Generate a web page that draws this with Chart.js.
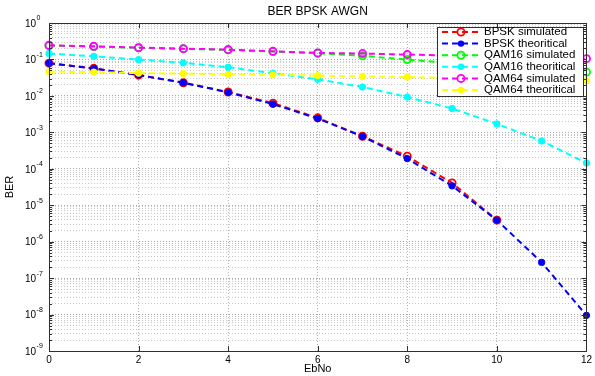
<!DOCTYPE html>
<html>
<head>
<meta charset="utf-8">
<title>BER BPSK AWGN</title>
<script src="https://cdn.jsdelivr.net/npm/chart.js@4.4.1/dist/chart.umd.min.js"></script>
<style>
  html, body { margin: 0; padding: 0; background: #fff; }
  #wrap { width: 595px; height: 376px; }
</style>
</head>
<body>
<div id="wrap"><canvas id="berChart" width="595" height="376"></canvas></div>
<script>
// Eb/No sweep (dB)
const ebNo = [0, 1, 2, 3, 4, 5, 6, 7, 8, 9, 10, 11, 12];

// BER curves
const bpskSimulated   = [0.079, 0.057, 0.037, 0.023, 0.0128, 0.0063, 0.0025, 0.00078, 0.00022, 0.000041, 0.0000039, null, null];
const bpskTheoretical = [0.0786, 0.0563, 0.0375, 0.0229, 0.0125, 0.00595, 0.00239, 0.00077, 0.00019, 0.000034, 0.0000039, 0.00000027, 0.0000000095];
const qam16Simulated  = [0.24, 0.226, 0.208, 0.195, 0.183, 0.165, 0.148, 0.126, 0.099, 0.08, 0.066, 0.054, 0.045];
const qam16Theoretical = [0.145, 0.122, 0.099, 0.081, 0.061, 0.042, 0.0285, 0.0175, 0.0093, 0.0045, 0.0017, 0.00058, 0.000144];
const qam64Simulated  = [0.244, 0.229, 0.211, 0.198, 0.186, 0.167, 0.151, 0.145, 0.136, 0.128, 0.12, 0.112, 0.105];
const qam64Theoretical = [0.046, 0.045, 0.042, 0.041, 0.039, 0.038, 0.036, 0.034, 0.033, 0.031, 0.029, 0.027, 0.026];

// axis ticks
const xTicks = [0, 2, 4, 6, 8, 10, 12];
const decades = [-9, -8, -7, -6, -5, -4, -3, -2, -1, 0];
const minorSteps = [2, 3, 4, 5, 6, 7, 8, 9];

const seriesList = [
  { label: 'BPSK simulated',    data: bpskSimulated,    color: '#ff0000', open: true },
  { label: 'BPSK theoritical',  data: bpskTheoretical,  color: '#0000ff', open: false },
  { label: 'QAM16 simulated',   data: qam16Simulated,   color: '#00ff00', open: true },
  { label: 'QAM16 theoritical', data: qam16Theoretical, color: '#00ffff', open: false },
  { label: 'QAM64 simulated',   data: qam64Simulated,   color: '#ff00ff', open: true },
  { label: 'QAM64 theoritical', data: qam64Theoretical, color: '#ffff00', open: false }
];

const FONT = "'Liberation Sans', Arial, Helvetica, sans-serif";
const DASH = [6, 4];
const AXIS_COLOR = '#303030';
const OPEN_R = 3.6;
const DOT_R = 3.2;

// every gridline on the log axis: 1..9 x 10^n
const yGridValues = [];
decades.forEach(e => {
  yGridValues.push(Math.pow(10, e));
  if (e < 0) minorSteps.forEach(m => yGridValues.push(m * Math.pow(10, e)));
});
const isDecade = v => Math.abs(Math.log10(v) - Math.round(Math.log10(v))) < 1e-9;

const datasets = seriesList.map((s, i) => ({
  label: s.label,
  data: ebNo.map((x, k) => ({ x: x, y: s.data[k] })),
  borderColor: s.color,
  backgroundColor: s.color,
  borderWidth: 2,
  borderDash: DASH,
  pointRadius: s.open ? OPEN_R : DOT_R,
  pointBorderWidth: s.open ? 1.8 : 1,
  pointBackgroundColor: s.open ? 'rgba(255,255,255,0)' : s.color,
  pointBorderColor: s.color,
  spanGaps: false,
  clip: false,
  order: seriesList.length - i   // later series on top
}));

function drawMarker(ctx, x, y, s) {
  ctx.beginPath();
  ctx.setLineDash([]);
  ctx.arc(x, y, s.open ? OPEN_R : DOT_R, 0, Math.PI * 2);
  if (s.open) {
    ctx.lineWidth = 1.8;
    ctx.strokeStyle = s.color;
    ctx.stroke();
  } else {
    ctx.fillStyle = s.color;
    ctx.fill();
  }
}

// axes box with inward tick marks on all four sides
const framePlugin = {
  id: 'frame',
  afterDatasetsDraw(chart) {
    const { ctx, chartArea: a, scales } = chart;
    ctx.save();
    ctx.setLineDash([]);
    ctx.strokeStyle = AXIS_COLOR;
    ctx.lineWidth = 1;
    ctx.strokeRect(Math.round(a.left) + 0.5, Math.round(a.top) + 0.5,
                   Math.round(a.right - a.left), Math.round(a.bottom - a.top));
    ctx.beginPath();
    xTicks.forEach(v => {
      const px = Math.round(scales.x.getPixelForValue(v)) + 0.5;
      ctx.moveTo(px, a.bottom); ctx.lineTo(px, a.bottom - 5);
      ctx.moveTo(px, a.top); ctx.lineTo(px, a.top + 5);
    });
    yGridValues.forEach(v => {
      const py = Math.round(scales.y.getPixelForValue(v)) + 0.5;
      const len = isDecade(v) ? 5 : 3;
      ctx.moveTo(a.left, py); ctx.lineTo(a.left + len, py);
      ctx.moveTo(a.right, py); ctx.lineTo(a.right - len, py);
    });
    ctx.stroke();
    ctx.restore();
  }
};

// legend box inside the plot, top right
const legendBoxPlugin = {
  id: 'legendBox',
  afterDatasetsDraw(chart) {
    const { ctx } = chart;
    const bx = 437, by = 27, bw = 146, bh = 69;
    ctx.save();
    ctx.fillStyle = '#fff';
    ctx.fillRect(bx, by, bw, bh);
    ctx.setLineDash([]);
    ctx.strokeStyle = AXIS_COLOR;
    ctx.lineWidth = 1;
    ctx.strokeRect(bx + 0.5, by + 0.5, bw, bh);
    ctx.font = '11.5px ' + FONT;
    ctx.textBaseline = 'middle';
    ctx.textAlign = 'left';
    seriesList.forEach((s, i) => {
      const y = 32 + i * 11.6;
      ctx.beginPath();
      ctx.setLineDash(DASH);
      ctx.strokeStyle = s.color;
      ctx.lineWidth = 2;
      ctx.moveTo(442, y);
      ctx.lineTo(480, y);
      ctx.stroke();
      drawMarker(ctx, 461, y, s);
      ctx.fillStyle = '#000';
      ctx.fillText(s.label, 484, y);
    });
    ctx.restore();
  }
};

// title and 10^n labels on the log axis
const textPlugin = {
  id: 'texts',
  afterDraw(chart) {
    const { ctx, chartArea: a, scales } = chart;
    ctx.save();
    ctx.fillStyle = '#000';
    ctx.font = '12px ' + FONT;
    ctx.textAlign = 'center';
    ctx.textBaseline = 'middle';
    ctx.fillText('BER BPSK AWGN', (a.left + a.right) / 2, 12);

    ctx.textAlign = 'left';
    decades.forEach(e => {
      const py = scales.y.getPixelForValue(Math.pow(10, e));
      ctx.font = '10px ' + FONT;
      ctx.fillText('10', 25, py + 1);
      const w = ctx.measureText('10').width;
      ctx.font = '7px ' + FONT;
      ctx.fillText(String(e), 25 + w + 0.5, py - 4.5);
    });
    ctx.restore();
  }
};

Chart.defaults.font.family = FONT;
Chart.defaults.color = '#000';

new Chart(document.getElementById('berChart'), {
  type: 'line',
  data: { datasets: datasets },
  options: {
    responsive: false,
    animation: false,
    layout: { padding: { top: 23, right: 8, left: 0, bottom: 0 } },
    plugins: {
      legend: { display: false },
      title: { display: false },
      tooltip: { enabled: false }
    },
    scales: {
      x: {
        type: 'linear',
        min: 0,
        max: 12,
        ticks: { stepSize: 2, font: { size: 10 }, padding: 3, color: '#000', maxRotation: 0 },
        grid: { color: '#b4b4b4', drawTicks: false, lineWidth: 1 },
        border: { display: false, dash: [1, 2] },
        title: { display: true, text: 'EbNo', font: { size: 11 }, padding: { top: 0, bottom: 0 }, color: '#000' },
        afterFit(scale) { scale.height = 25; }
      },
      y: {
        type: 'logarithmic',
        min: 1e-9,
        max: 1,
        afterBuildTicks(scale) {
          scale.ticks = yGridValues.map(v => ({ value: v }));
        },
        ticks: { display: false, autoSkip: false },
        grid: {
          drawTicks: false,
          lineWidth: 1,
          color: ctx => (ctx.tick && isDecade(ctx.tick.value)) ? '#a8a8a8' : '#c8c8c8'
        },
        border: { display: false, dash: [1, 2] },
        title: { display: true, text: 'BER', font: { size: 11 }, padding: { top: 3, bottom: 0 }, color: '#000' },
        afterFit(scale) { scale.width = 49; }
      }
    }
  },
  plugins: [framePlugin, legendBoxPlugin, textPlugin]
});
</script>
</body>
</html>
